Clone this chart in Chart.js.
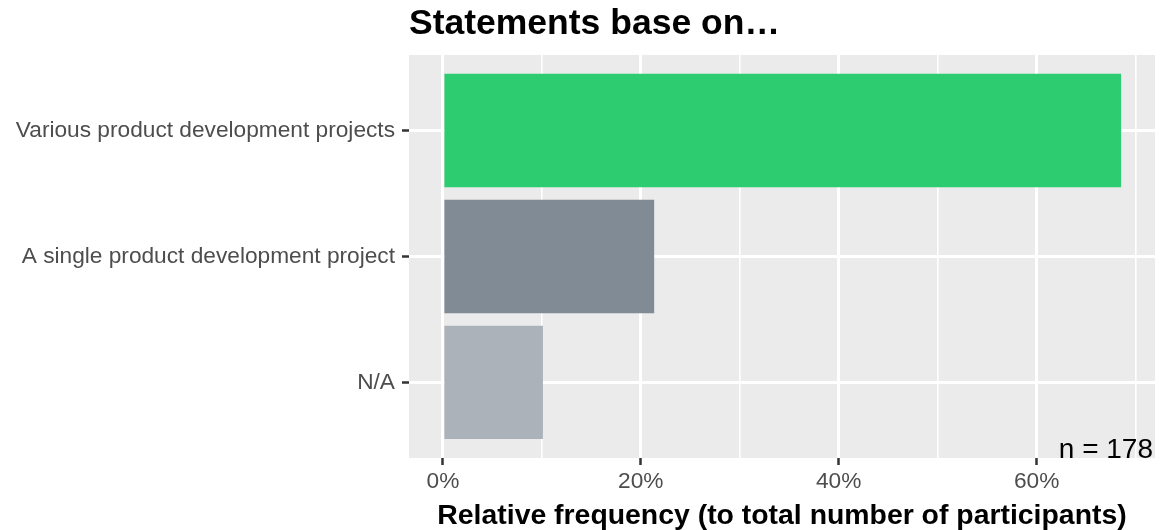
<!DOCTYPE html>
<html>
<head>
<meta charset="utf-8">
<script src="https://cdn.jsdelivr.net/npm/chart.js@4"></script>
<style>
  html, body { margin: 0; padding: 0; background: #fff; }
  #wrap { width: 1164px; height: 530px; }
</style>
</head>
<body>
<div id="wrap"><canvas id="chart" width="1164" height="530"></canvas></div>
<script>
// --- Data ---
const categories = ['Various product development projects', 'A single product development project', 'N/A'];
const shares = [68.54, 21.35, 10.11];   // percent of participants
const barColors = ['#2ECC71', '#808B96', '#ABB2B9'];
const majorTicks = [0, 20, 40, 60];
const minorTicks = [10, 30, 50, 70];
const sampleSize = 178;

const FONT = '"Liberation Sans", Arial, sans-serif';

// position of each category on the index axis (top row = highest value)
function rowOf(i) { return categories.length - i; }

// --- Plugins ---
const panelBackground = {
    id: 'panelBackground',
    beforeDraw(chart) {
        const a = chart.chartArea;
        const ctx = chart.ctx;
        ctx.save();
        ctx.fillStyle = '#EBEBEB';
        ctx.fillRect(a.left, a.top, a.right - a.left, a.bottom - a.top);
        ctx.restore();
    }
};

const sampleNote = {
    id: 'sampleNote',
    afterDraw(chart) {
        const a = chart.chartArea;
        const ctx = chart.ctx;
        ctx.save();
        ctx.font = '28px ' + FONT;
        ctx.fillStyle = '#000';
        ctx.textAlign = 'right';
        ctx.textBaseline = 'alphabetic';
        ctx.fillText('n = ' + sampleSize, a.right - 2, a.bottom);
        ctx.restore();
    }
};

// --- Chart ---
new Chart(document.getElementById('chart').getContext('2d'), {
    type: 'bar',
    data: {
        datasets: [{
            data: shares.map((v, i) => ({ x: v, y: rowOf(i) })),
            backgroundColor: barColors,
            borderWidth: 0,
            barPercentage: 0.9,
            categoryPercentage: 1
        }]
    },
    options: {
        indexAxis: 'y',
        responsive: false,
        animation: false,
        layout: { padding: { top: 0, right: 9, bottom: 0, left: 0 } },
        plugins: {
            legend: { display: false },
            tooltip: { enabled: false },
            title: {
                display: true,
                text: 'Statements base on\u2026',
                align: 'start',
                fullSize: false,
                color: '#000',
                font: { family: FONT, size: 35.5, weight: 'bold', lineHeight: 0.9 },
                padding: { top: 8.7, bottom: 14.3 }
            }
        },
        scales: {
            x: {
                type: 'linear',
                position: 'bottom',
                min: -3.427,
                max: 71.966,
                afterBuildTicks: scale => {
                    scale.ticks = majorTicks.concat(minorTicks).sort((a, b) => a - b).map(v => ({ value: v }));
                },
                afterFit: scale => { scale.height = 72; },
                ticks: {
                    autoSkip: false,
                    maxRotation: 0,
                    padding: 3.5,
                    color: '#4D4D4D',
                    font: { family: FONT, size: 22.7 },
                    callback: v => majorTicks.includes(v) ? v + '%' : ''
                },
                grid: {
                    color: '#FFFFFF',
                    lineWidth: ctx => majorTicks.includes(ctx.tick.value) ? 3 : 1.6,
                    drawTicks: true,
                    tickLength: 7,
                    tickWidth: 2.5,
                    tickColor: ctx => majorTicks.includes(ctx.tick.value) ? '#333333' : 'rgba(0,0,0,0)'
                },
                border: { display: false },
                title: {
                    display: true,
                    text: 'Relative frequency (to total number of participants)',
                    color: '#000',
                    font: { family: FONT, size: 28.4, weight: 'bold', lineHeight: 1 },
                    padding: { top: 0, bottom: 0 }
                }
            },
            y: {
                type: 'linear',
                position: 'left',
                offset: false,
                min: 0.4,
                max: categories.length + 0.6,
                afterBuildTicks: scale => {
                    scale.ticks = categories.map((c, i) => ({ value: rowOf(i) }));
                },
                afterFit: scale => { scale.width = 409; },
                ticks: {
                    autoSkip: false,
                    padding: 7,
                    color: '#4D4D4D',
                    font: { family: FONT, size: 22.7 },
                    callback: v => categories[categories.length - v]
                },
                grid: {
                    offset: false,
                    color: '#FFFFFF',
                    lineWidth: 3,
                    drawTicks: true,
                    tickLength: 7,
                    tickWidth: 2.5,
                    tickColor: '#333333'
                },
                border: { display: false }
            }
        }
    },
    plugins: [panelBackground, sampleNote]
});
</script>
</body>
</html>
